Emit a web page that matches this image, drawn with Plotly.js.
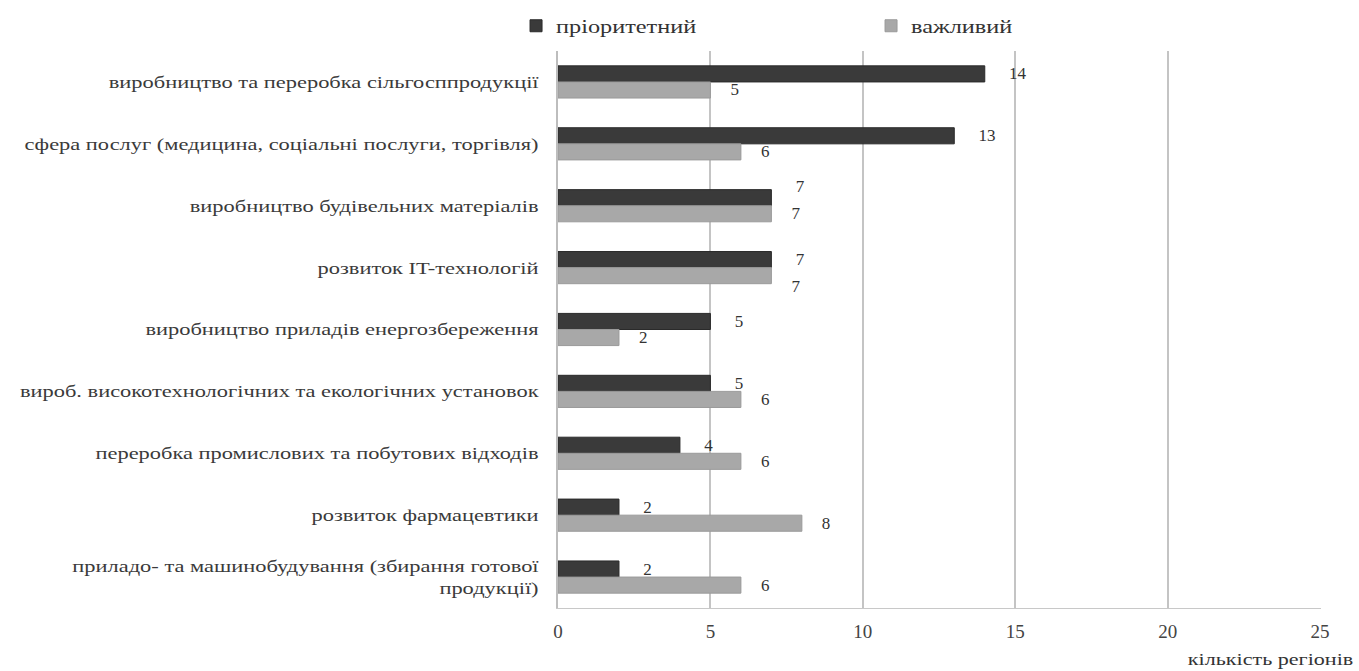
<!DOCTYPE html>
<html>
<head>
<meta charset="utf-8">
<script src="https://cdn.plot.ly/plotly-3.0.1.min.js"></script>
<style>
  html, body { margin: 0; padding: 0; background: #ffffff; }
  #chart { width: 1359px; height: 671px; }
</style>
</head>
<body>
<div id="chart"></div>
<script>
// Sectors (top to bottom)
const categories = [
  "виробництво та переробка сільгосппродукції",
  "сфера послуг (медицина, соціальні послуги, торгівля)",
  "виробництво будівельних матеріалів",
  "розвиток IT-технологій",
  "виробництво приладів енергозбереження",
  "вироб. високотехнологічних та екологічних установок",
  "переробка промислових та побутових відходів",
  "розвиток фармацевтики",
  "приладо- та машинобудування (збирання готової<br>продукції)"
];

// Number of regions naming the sector
const priorityValues = [14, 13, 7, 7, 5, 5, 4, 2, 2];
const importantValues = [5, 6, 7, 7, 2, 6, 6, 8, 6];

const seriesNames = ["пріоритетний", "важливий"];
const xTicks = [0, 5, 10, 15, 20, 25];
const xAxisLabel = "кількість регіонів";

const serif = "Liberation Serif, Times New Roman, serif";

// Where two equal-length bars share a row, nudge one label up or down
// with an empty line so the pair of labels stays readable.
const NB = "\u00a0";
const priorityTemplates = priorityValues.map(function (v, i) {
  return (v === importantValues[i] && i % 2 === 0) ? "     %{text}<br>" + NB : "     %{text}";
});
const importantTemplates = importantValues.map(function (v, i) {
  return (v === priorityValues[i] && i % 2 === 1) ? NB + "<br>    %{text}" : "    %{text}";
});

const traces = [
  {
    type: "bar",
    orientation: "h",
    name: seriesNames[0],
    y: categories,
    x: priorityValues,
    marker: { color: "#3a3a3a", line: { color: "#2a2a2a", width: 1 } },
    text: priorityValues.map(String),
    texttemplate: priorityTemplates,
    textposition: "outside",
    constraintext: "none",
    cliponaxis: false,
    textfont: { family: serif, size: 17, color: "#333333" }
  },
  {
    type: "bar",
    orientation: "h",
    name: seriesNames[1],
    y: categories,
    x: importantValues,
    marker: { color: "#a8a8a8", line: { color: "#9a9a9a", width: 1 } },
    text: importantValues.map(String),
    texttemplate: importantTemplates,
    textposition: "outside",
    constraintext: "none",
    cliponaxis: false,
    textfont: { family: serif, size: 17, color: "#333333" }
  }
];

const layout = {
  width: 1359,
  height: 671,
  margin: { l: 558, r: 38, t: 51, b: 63, autoexpand: false },
  paper_bgcolor: "#ffffff",
  plot_bgcolor: "#ffffff",
  barmode: "group",
  bargap: 0.48,
  bargroupgap: 0,
  font: { family: serif, size: 16, color: "#333333" },
  showlegend: true,
  legend: {
    orientation: "h",
    x: -0.055,
    xanchor: "left",
    y: 1.078,
    yanchor: "top",
    entrywidth: 310,
    entrywidthmode: "pixels",
    font: { family: serif, size: 18, color: "#333333" },
    itemwidth: 30,
    traceorder: "normal"
  },
  xaxis: {
    range: [0, 25.03],
    tickvals: xTicks,
    ticktext: xTicks.map(String),
    showgrid: true,
    gridcolor: "#c4c4c4",
    gridwidth: 2,
    zeroline: false,
    showline: true,
    linecolor: "#c8c8c8",
    linewidth: 1,
    ticks: "",
    ticklabelstandoff: 6,
    tickfont: { family: serif, size: 19, color: "#444444" },
    automargin: false,
    fixedrange: true
  },
  yaxis: {
    autorange: "reversed",
    showgrid: false,
    zeroline: false,
    showline: true,
    linecolor: "#bdbdbd",
    linewidth: 2,
    ticks: "",
    ticklabelstandoff: 14,
    tickfont: { family: serif, size: 17, color: "#3a3a3a" },
    automargin: false,
    fixedrange: true
  },
  annotations: [
    {
      text: xAxisLabel,
      xref: "paper",
      yref: "paper",
      x: 1.044,
      y: -0.072,
      xanchor: "right",
      yanchor: "top",
      showarrow: false,
      font: { family: serif, size: 17, color: "#333333" }
    }
  ]
};

// Widen a text element horizontally about a fixed x anchor
function stretchText(el, factor, anchorX) {
  const prev = el.getAttribute("transform") || "";
  el.setAttribute(
    "transform",
    prev + " translate(" + anchorX + ",0) scale(" + factor + ",1) translate(" + (-anchorX) + ",0)"
  );
}

Plotly.newPlot("chart", traces, layout, { displayModeBar: false, staticPlot: true }).then(function (gd) {
  // category labels are right-anchored: stretch about their anchor point
  gd.querySelectorAll(".ytick text").forEach(function (t) {
    const ax = parseFloat(t.getAttribute("x")) || 0;
    stretchText(t, 1.32, ax);
  });
  // legend labels are left-anchored
  gd.querySelectorAll(".legendtext").forEach(function (t) {
    const ax = parseFloat(t.getAttribute("x")) || 0;
    stretchText(t, 1.35, ax);
  });
  // axis caption: stretch about its right edge
  gd.querySelectorAll(".annotation-text").forEach(function (t) {
    const bb = t.getBBox();
    stretchText(t, 1.3, bb.x + bb.width);
  });
});
</script>
</body>
</html>
